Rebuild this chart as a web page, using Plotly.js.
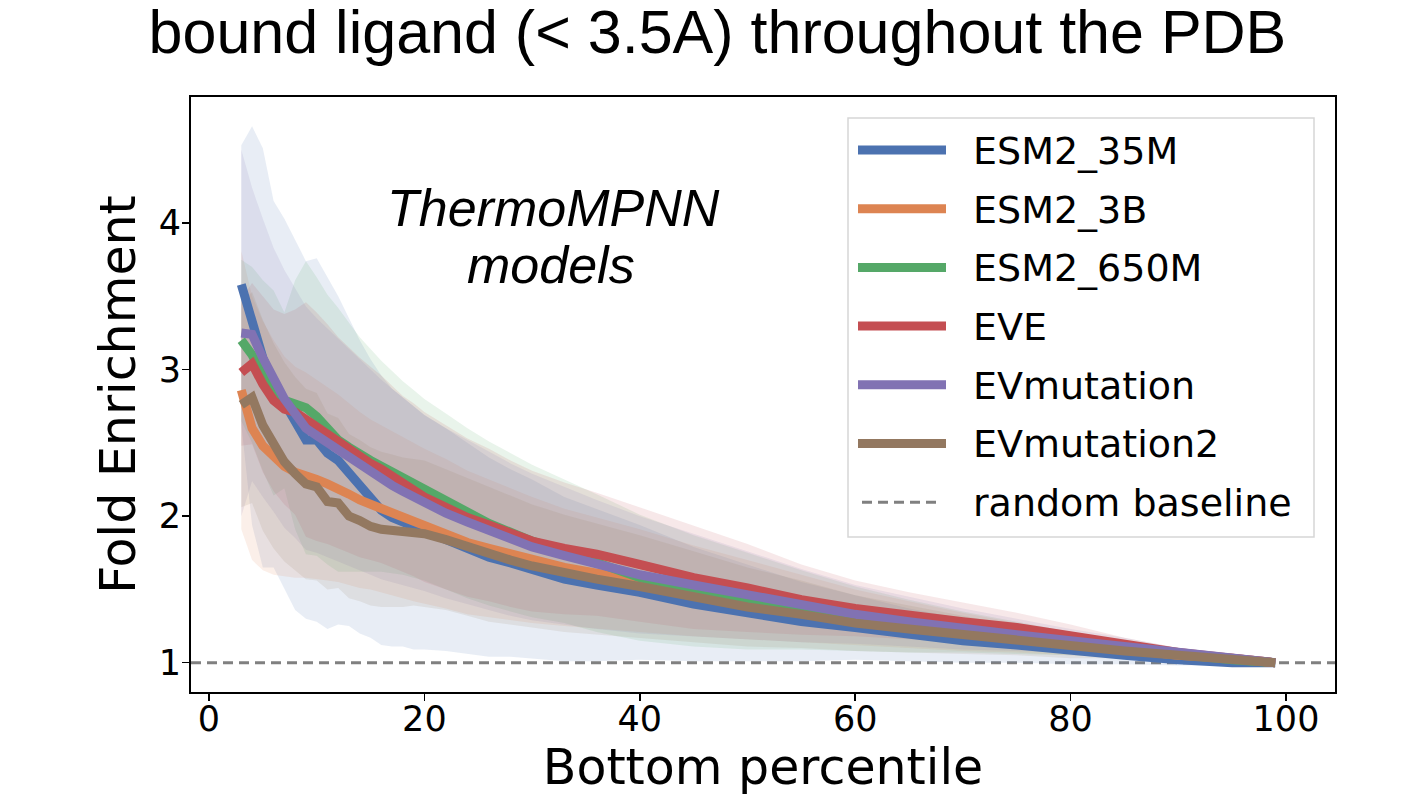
<!DOCTYPE html>
<html>
<head>
<meta charset="utf-8">
<script src="https://cdn.plot.ly/plotly-3.0.1.min.js"></script>
<style>
  html, body { margin: 0; padding: 0; background: #ffffff; }
  #chart { width: 1404px; height: 799px; }
</style>
</head>
<body>
<div id="chart"></div>
<script>
// ---------------- data ----------------
const percentile = [3,4,5,6,7,8,9,10,11,12,13,14,15,16,17,18,19,20,22,24,26,28,30,33,36,40,45,50,55,60,65,70,75,80,85,90,95,99];

const seriesNames = ["ESM2_35M", "ESM2_3B", "ESM2_650M", "EVE", "EVmutation", "EVmutation2"];
const seriesColors = ["#4C72B0", "#DD8452", "#55A868", "#C44E52", "#8172B3", "#937860"];

const esm2_35m    = [3.58,3.30,3.08,2.90,2.77,2.62,2.52,2.52,2.43,2.38,2.30,2.20,2.12,2.04,1.99,1.96,1.92,1.89,1.84,1.78,1.72,1.68,1.64,1.57,1.53,1.48,1.40,1.34,1.28,1.24,1.19,1.15,1.12,1.08,1.05,1.02,1.00,1.00];
const esm2_3b     = [2.86,2.60,2.48,2.40,2.34,2.30,2.28,2.25,2.22,2.19,2.15,2.11,2.08,2.05,2.02,1.99,1.96,1.93,1.88,1.82,1.78,1.74,1.70,1.65,1.61,1.56,1.49,1.43,1.37,1.31,1.26,1.21,1.17,1.13,1.09,1.05,1.03,1.00];
const esm2_650m   = [3.20,3.10,2.96,2.84,2.79,2.76,2.74,2.68,2.59,2.52,2.47,2.42,2.38,2.34,2.30,2.26,2.22,2.18,2.10,2.02,1.95,1.89,1.83,1.76,1.68,1.58,1.49,1.42,1.36,1.30,1.25,1.21,1.17,1.13,1.09,1.05,1.02,1.00];
const eve         = [2.98,3.04,2.90,2.79,2.73,2.71,2.66,2.61,2.56,2.50,2.45,2.40,2.36,2.32,2.27,2.22,2.18,2.13,2.06,1.99,1.94,1.88,1.83,1.78,1.74,1.67,1.58,1.51,1.43,1.37,1.32,1.28,1.24,1.18,1.12,1.07,1.03,1.00];
const evmutation  = [3.25,3.24,3.08,2.93,2.80,2.70,2.60,2.55,2.50,2.45,2.40,2.35,2.30,2.25,2.21,2.17,2.13,2.09,2.02,1.96,1.90,1.84,1.79,1.73,1.67,1.60,1.53,1.46,1.39,1.33,1.28,1.23,1.19,1.15,1.11,1.06,1.03,1.00];
const evmutation2 = [2.76,2.81,2.62,2.48,2.37,2.29,2.22,2.20,2.10,2.09,2.00,1.97,1.93,1.91,1.90,1.89,1.89,1.88,1.84,1.79,1.74,1.70,1.66,1.61,1.57,1.52,1.45,1.38,1.33,1.27,1.23,1.19,1.15,1.11,1.08,1.05,1.02,1.00];

// spread (standard deviation) of each series, drawn as shaded band
const esm2_35m_sd    = [0.95,1.36,1.43,1.25,1.26,1.26,1.22,1.24,1.20,1.12,1.05,1.00,0.95,0.92,0.88,0.85,0.83,0.80,0.76,0.72,0.68,0.64,0.61,0.56,0.52,0.46,0.39,0.33,0.27,0.22,0.18,0.15,0.12,0.09,0.06,0.04,0.02,0.01];
const esm2_3b_sd     = [0.95,0.90,0.85,0.80,0.75,0.72,0.70,0.68,0.66,0.64,0.62,0.60,0.58,0.57,0.56,0.55,0.54,0.53,0.51,0.49,0.47,0.45,0.43,0.40,0.38,0.35,0.31,0.27,0.23,0.19,0.16,0.13,0.10,0.08,0.05,0.03,0.02,0.01];
const esm2_650m_sd   = [0.55,0.60,0.65,0.70,0.60,0.85,1.00,0.95,0.92,0.90,0.85,0.80,0.76,0.72,0.69,0.66,0.64,0.62,0.60,0.58,0.56,0.54,0.52,0.49,0.47,0.43,0.38,0.33,0.27,0.22,0.18,0.14,0.11,0.08,0.06,0.04,0.02,0.01];
const eve_sd         = [0.50,0.55,0.60,0.62,0.65,0.70,0.80,0.78,0.75,0.72,0.70,0.68,0.66,0.64,0.62,0.60,0.59,0.58,0.56,0.54,0.52,0.50,0.48,0.45,0.42,0.39,0.35,0.30,0.24,0.19,0.16,0.13,0.10,0.08,0.05,0.03,0.02,0.01];
const evmutation_sd  = [1.25,1.00,0.95,0.90,0.88,0.85,0.83,0.80,0.78,0.76,0.74,0.72,0.70,0.68,0.66,0.64,0.62,0.60,0.58,0.56,0.54,0.52,0.50,0.47,0.44,0.40,0.35,0.30,0.25,0.20,0.17,0.14,0.11,0.08,0.06,0.04,0.02,0.01];
const evmutation2_sd = [0.70,0.72,0.72,0.70,0.68,0.66,0.65,0.64,0.60,0.58,0.56,0.55,0.54,0.53,0.52,0.51,0.50,0.50,0.48,0.47,0.46,0.44,0.42,0.40,0.38,0.35,0.31,0.27,0.23,0.19,0.16,0.13,0.10,0.08,0.05,0.03,0.02,0.01];

const seriesValues = [esm2_35m, esm2_3b, esm2_650m, eve, evmutation, evmutation2];
const seriesSpread = [esm2_35m_sd, esm2_3b_sd, esm2_650m_sd, eve_sd, evmutation_sd, evmutation2_sd];

const baselineValue = 1;
const baselineName = "random baseline";
const xTicks = [0, 20, 40, 60, 80, 100];
const yTicks = [1, 2, 3, 4];

const titleText = "bound ligand (&lt; 3.5A) throughout the PDB";
const xTitle = "Bottom percentile";
const yTitle = "Fold Enrichment";
const noteLine1 = "ThermoMPNN";
const noteLine2 = "models";

// ---------------- helpers ----------------
function rgba(hex, a) {
  const n = parseInt(hex.slice(1), 16);
  return "rgba(" + ((n >> 16) & 255) + "," + ((n >> 8) & 255) + "," + (n & 255) + "," + a + ")";
}

// ---------------- traces ----------------
const traces = [];
seriesValues.forEach((vals, i) => {
  const sd = seriesSpread[i];
  const upper = vals.map((v, k) => v + sd[k]);
  const lower = vals.map((v, k) => v - sd[k]);
  traces.push({
    type: "scatter", mode: "lines",
    x: percentile.concat(percentile.slice().reverse()),
    y: upper.concat(lower.slice().reverse()),
    fill: "toself", fillcolor: rgba(seriesColors[i], 0.13),
    line: { width: 0, color: rgba(seriesColors[i], 0) },
    hoverinfo: "skip", showlegend: false
  });
});
seriesValues.forEach((vals, i) => {
  traces.push({
    type: "scatter", mode: "lines",
    x: percentile, y: vals, name: seriesNames[i],
    line: { color: seriesColors[i], width: 9 },
    showlegend: false
  });
});

// ---------------- layout geometry (pixels) ----------------
const W = 1404, H = 799;
const plotL = 191, plotR = 1335, plotT = 97, plotB = 692;
const px2paperX = p => (p - plotL) / (plotR - plotL);
const px2paperY = p => (plotB - p) / (plotB - plotT);

const shapes = [];
const annotations = [];

// random baseline (dashed, spans whole axis)
shapes.push({
  type: "line", xref: "paper", x0: 0, x1: 1, yref: "y", y0: baselineValue, y1: baselineValue,
  line: { color: "#808080", width: 3, dash: "10px,6px" }, layer: "below"
});

// manual legend (box + samples + labels)
const legL = 848, legR = 1314, legT = 118, legBt = 537;
shapes.push({
  type: "rect", xref: "paper", yref: "paper",
  x0: px2paperX(legL), x1: px2paperX(legR), y0: px2paperY(legBt), y1: px2paperY(legT),
  line: { color: "#d6d6d6", width: 1.5 }, fillcolor: "rgba(255,255,255,0.85)", layer: "above"
});
const rowY0 = 150, rowStep = 58.7;
const legendNames = seriesNames.concat([baselineName]);
legendNames.forEach((nm, i) => {
  const yPx = rowY0 + i * rowStep;
  const isBase = i === seriesNames.length;
  shapes.push({
    type: "line", xref: "paper", yref: "paper",
    x0: px2paperX(isBase ? 862 : 858), x1: px2paperX(isBase ? 942 : 946),
    y0: px2paperY(yPx), y1: px2paperY(yPx),
    line: isBase ? { color: "#808080", width: 3, dash: "10px,6px" } : { color: seriesColors[i], width: 9 },
    layer: "above"
  });
  annotations.push({
    xref: "paper", yref: "paper", x: px2paperX(971), y: px2paperY(yPx + 1),
    xanchor: "left", yanchor: "middle", showarrow: false, text: nm,
    font: { family: "DejaVu Sans", size: 38, color: "#000000" }
  });
});

// in-plot note
annotations.push({
  xref: "paper", yref: "paper", x: px2paperX(553), y: px2paperY(208),
  xanchor: "center", yanchor: "middle", showarrow: false,
  text: "<i>" + noteLine1 + "</i>",
  font: { family: "Liberation Sans", size: 52, color: "#000000" }
});
annotations.push({
  xref: "paper", yref: "paper", x: px2paperX(551), y: px2paperY(265),
  xanchor: "center", yanchor: "middle", showarrow: false,
  text: "<i>" + noteLine2 + "</i>",
  font: { family: "Liberation Sans", size: 52, color: "#000000" }
});

const layout = {
  width: W, height: H,
  paper_bgcolor: "#ffffff", plot_bgcolor: "#ffffff",
  margin: { l: plotL, r: W - plotR, t: plotT, b: H - plotB, pad: 0 },
  showlegend: false,
  title: {
    text: titleText, xref: "container", yref: "container",
    x: 0.511, xanchor: "center", y: 1 - 10 / H, yanchor: "top",
    font: { family: "Liberation Sans", size: 61, color: "#000000" }
  },
  xaxis: {
    range: [-1.67, 104.55], tickvals: xTicks, ticktext: xTicks.map(String),
    showgrid: false, zeroline: false, showline: true, mirror: true,
    linecolor: "#000000", linewidth: 2,
    ticks: "outside", ticklen: 7, tickwidth: 1.5, tickcolor: "#000000",
    ticklabelstandoff: -12,
    tickfont: { family: "DejaVu Sans", size: 35, color: "#000000" },
    automargin: false,
    title: { text: xTitle, font: { family: "DejaVu Sans", size: 49, color: "#000000" }, standoff: 8 }
  },
  yaxis: {
    range: [0.80, 4.86], tickvals: yTicks, ticktext: yTicks.map(String),
    showgrid: false, zeroline: false, showline: true, mirror: true,
    linecolor: "#000000", linewidth: 2,
    ticks: "outside", ticklen: 7, tickwidth: 1.5, tickcolor: "#000000",
    ticklabelstandoff: -6,
    tickfont: { family: "DejaVu Sans", size: 35, color: "#000000" },
    automargin: false,
    title: { text: yTitle, font: { family: "DejaVu Sans", size: 49, color: "#000000" }, standoff: 8 }
  },
  shapes: shapes,
  annotations: annotations
};

Plotly.newPlot("chart", traces, layout, { displayModeBar: false, staticPlot: true });
</script>
</body>
</html>
